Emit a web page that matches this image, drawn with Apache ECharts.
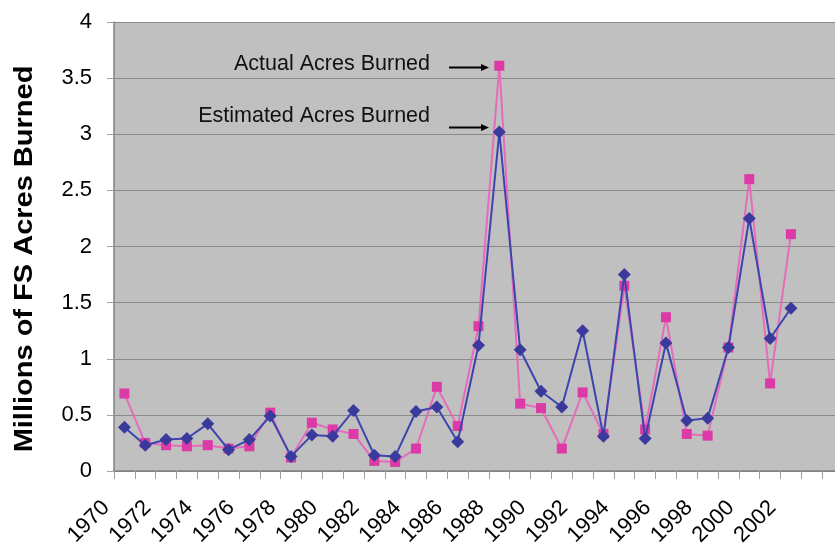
<!DOCTYPE html>
<html>
<head>
<meta charset="utf-8">
<title>FS Acres Burned</title>
<script src="https://cdn.jsdelivr.net/npm/echarts@6/dist/echarts.min.js"></script>
<style>
  html, body { margin: 0; padding: 0; background: #fff; }
  #chart { width: 835px; height: 550px; }
</style>
</head>
<body>
<div id="chart"></div>
<script>
  // years on the category axis (last two are empty slots, no data)
  var years = ['1970', '1971', '1972', '1973', '1974', '1975', '1976', '1977', '1978', '1979',
    '1980', '1981', '1982', '1983', '1984', '1985', '1986', '1987', '1988', '1989',
    '1990', '1991', '1992', '1993', '1994', '1995', '1996', '1997', '1998', '1999',
    '2000', '2001', '2002', '2003', '2004']
  var lastLabelYear = 2002

  // millions of acres, 1970..2002
  var estimated = [0.39, 0.23, 0.28, 0.29, 0.42, 0.19, 0.28, 0.49, 0.13, 0.32,
    0.31, 0.54, 0.14, 0.13, 0.53, 0.57, 0.26, 1.12, 3.02, 1.08,
    0.71, 0.57, 1.25, 0.31, 1.75, 0.29, 1.14, 0.45, 0.47, 1.10,
    2.25, 1.18, 1.45]
  var actual = [0.69, 0.25, 0.23, 0.22, 0.23, 0.20, 0.22, 0.52, 0.12, 0.43,
    0.37, 0.33, 0.09, 0.08, 0.20, 0.75, 0.40, 1.29, 3.61, 0.60,
    0.56, 0.20, 0.70, 0.33, 1.65, 0.37, 1.37, 0.33, 0.315, 1.10,
    2.60, 0.78, 2.11]

  var yTicks = { min: 0, max: 4, step: 0.5 }

  var chart = echarts.init(document.getElementById('chart'))
  var font = '"Liberation Sans", Arial, sans-serif'

  chart.setOption({
    animation: false,
    textStyle: { fontFamily: font },
    grid: {
      left: 114,
      top: 22,
      bottom: 79,
      width: 729,
      containLabel: false,
      outerBoundsMode: 'none',
      show: true,
      backgroundColor: '#c0c0c0',
      borderWidth: 0
    },
    xAxis: {
      type: 'category',
      data: years,
      boundaryGap: true,
      axisLine: { lineStyle: { color: '#808080', width: 1.5 } },
      axisTick: { show: true, interval: 0, length: 8, lineStyle: { color: '#a0a0a0' } },
      axisLabel: {
        rotate: 45,
        margin: 15,
        padding: [0, 26, 0, 0],
        color: '#000',
        fontSize: 22,
        fontFamily: font,
        interval: function (i, v) {
          return i % 2 === 0 && Number(v) <= lastLabelYear
        }
      }
    },
    yAxis: {
      type: 'value',
      min: yTicks.min,
      max: yTicks.max,
      interval: yTicks.step,
      axisLine: { show: true, lineStyle: { color: '#808080', width: 1.5 } },
      axisTick: { show: true, length: 7, lineStyle: { color: '#a0a0a0' } },
      axisLabel: { color: '#000', fontSize: 22, margin: 22, fontFamily: font },
      splitLine: { lineStyle: { color: '#8a8a8a', width: 1 } }
    },
    series: [
      {
        name: 'Estimated Acres Burned',
        type: 'line',
        data: estimated,
        symbol: 'diamond',
        symbolSize: 13,
        z: 3,
        itemStyle: { color: '#3a3a9c' },
        lineStyle: { color: '#3d44ae', width: 2 }
      },
      {
        name: 'Actual Acres Burned',
        type: 'line',
        data: actual,
        symbol: 'rect',
        symbolSize: 10,
        z: 2,
        itemStyle: { color: '#dc3aa6' },
        lineStyle: { color: '#e46cbb', width: 2 }
      }
    ],
    graphic: [
      {
        type: 'text',
        x: 25,
        y: 259,
        rotation: Math.PI / 2,
        scaleX: 1.16,
        style: {
          text: 'Millions of FS Acres Burned',
          fill: '#000',
          font: 'bold 25px ' + font,
          align: 'center',
          verticalAlign: 'middle'
        }
      },
      {
        type: 'text',
        x: 430,
        y: 64,
        style: { text: 'Actual Acres Burned', fill: '#111', font: '21.5px ' + font, align: 'right', verticalAlign: 'middle' }
      },
      {
        type: 'text',
        x: 430,
        y: 116,
        style: { text: 'Estimated Acres Burned', fill: '#111', font: '21.5px ' + font, align: 'right', verticalAlign: 'middle' }
      },
      {
        type: 'line',
        shape: { x1: 449, y1: 67.5, x2: 482, y2: 67.5 },
        style: { stroke: '#000', lineWidth: 2 }
      },
      {
        type: 'polygon',
        shape: { points: [[481, 64], [489, 67.5], [481, 71]] },
        style: { fill: '#000' }
      },
      {
        type: 'line',
        shape: { x1: 449, y1: 127.5, x2: 482, y2: 127.5 },
        style: { stroke: '#000', lineWidth: 2 }
      },
      {
        type: 'polygon',
        shape: { points: [[481, 124], [489, 127.5], [481, 131]] },
        style: { fill: '#000' }
      }
    ]
  })
</script>
</body>
</html>
